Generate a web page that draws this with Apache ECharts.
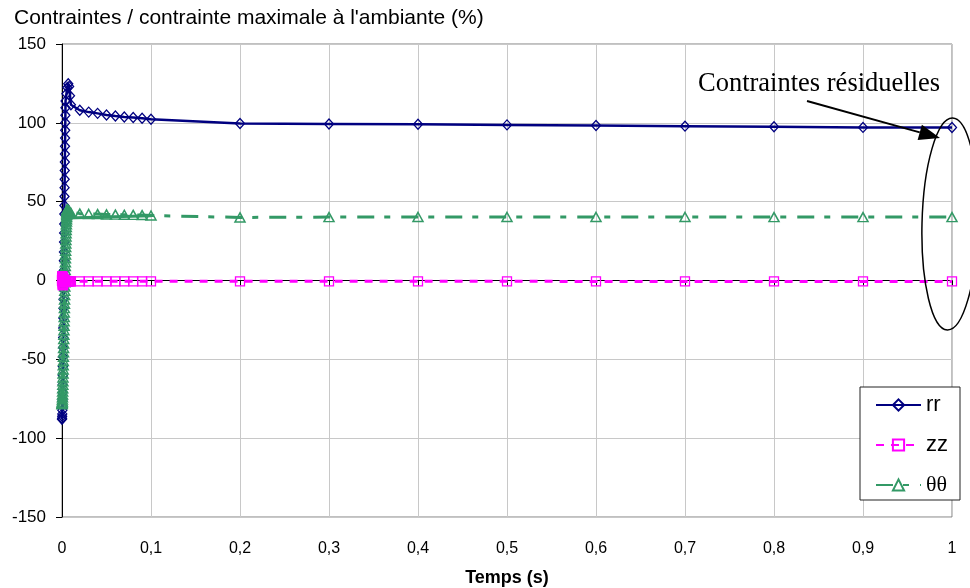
<!DOCTYPE html>
<html><head><meta charset="utf-8">
<script src="https://cdn.jsdelivr.net/npm/echarts@6/dist/echarts.min.js"></script>
<style>html,body{margin:0;padding:0;background:#fff}#c{width:970px;height:588px}</style>
</head><body><div id="c"></div>
<script>
// Time (s) for rr and zz
const times = [
  0, 0.0001, 0.0002, 0.0003, 0.0004, 0.0005, 0.0006, 0.0007, 0.0008, 0.0009,
  0.001, 0.0011, 0.0012, 0.0013, 0.0014, 0.0015, 0.0016, 0.0017, 0.0018, 0.0019,
  0.002, 0.0021, 0.0022, 0.0023, 0.0024, 0.0025, 0.0026, 0.0027, 0.0028, 0.0029,
  0.003, 0.0031, 0.0032, 0.0033, 0.0034, 0.0035, 0.0036, 0.0037, 0.0038, 0.0039,
  0.004,
  0.005, 0.006, 0.007, 0.008, 0.009, 0.01,
  0.02, 0.03, 0.04, 0.05, 0.06, 0.07, 0.08, 0.09, 0.1,
  0.2, 0.3, 0.4, 0.5, 0.6, 0.7, 0.8, 0.9, 1
];
// rr (%)
const rrValues = [
  -88, -87.4, -86.1, -84.6, -82.3, -79.5, -75.8, -71.2, -65.9, -60.3,
  -54.6, -48.4, -42.5, -36.1, -30.2, -23.8, -17.6, -11.9, -5.7, 0.4,
  6.3, 12.5, 18.1, 24.4, 30.2, 35.9, 42.1, 47.6, 53.3, 58.9,
  64.2, 69.8, 75.1, 80.3, 85.2, 90.4, 95.3, 100.1, 104.8, 109.6,
  113.9,
  118.5, 122.4, 124.8, 123.1, 117.2, 111.5,
  108, 106.8, 106, 105, 104.3, 103.7, 103.4, 102.9, 102.3,
  99.6, 99.3, 99.1, 98.7, 98.3, 97.9, 97.5, 97.1, 97.0
];
// zz (%)
const zzValues = [
  0, 1.3, 2.2, 2.7, 2.4, 1.6, 0.5, -0.7, -1.8, -2.6,
  -3.0, -2.7, -2.1, -1.2, -0.4, 0.2, 0.7, 1.0, 0.9, 0.6,
  0.2, -0.2, -0.6, -0.9, -1.0, -0.9, -0.7, -0.4, -0.2, 0.0,
  0.1, 0.1, 0.0, -0.1, -0.2, -0.3, -0.4, -0.4, -0.5, -0.5,
  -0.5,
  -0.5, -0.5, -0.5, -0.5, -0.5, -0.5,
  -0.5, -0.5, -0.5, -0.5, -0.5, -0.5, -0.5, -0.5, -0.5,
  -0.5, -0.5, -0.5, -0.5, -0.6, -0.6, -0.6, -0.6, -0.6
];
// Time (s) for θθ
const ttTimes = [
  0, 0.0001, 0.0002, 0.0003, 0.0004, 0.0005, 0.0006, 0.0007, 0.0008, 0.0009,
  0.001, 0.0011, 0.0012, 0.0013, 0.0014, 0.0015, 0.0016, 0.0017, 0.0018, 0.0019,
  0.002, 0.0021, 0.0022, 0.0023, 0.0024, 0.0025, 0.0026, 0.0027, 0.0028, 0.0029,
  0.003, 0.0031, 0.0032, 0.0033, 0.0034, 0.0035, 0.0036, 0.0037, 0.0038, 0.0039,
  0.004, 0.0041, 0.0042, 0.0043, 0.0044, 0.0045, 0.0046, 0.0047, 0.0048, 0.0049,
  0.005, 0.0051, 0.0052, 0.0053, 0.0054, 0.0055, 0.0056, 0.0057, 0.0058, 0.0059,
  0.006,
  0.007, 0.008, 0.009, 0.01,
  0.02, 0.03, 0.04, 0.05, 0.06, 0.07, 0.08, 0.09, 0.1,
  0.2, 0.3, 0.4, 0.5, 0.6, 0.7, 0.8, 0.9, 1
];
// θθ (%)
const ttValues = [
  -78.5, -78.2, -77.6, -76.7, -75.5, -74.1, -72.4, -70.5, -68.4, -66.2,
  -63.9, -61.5, -59.0, -56.4, -53.8, -51.1, -48.4, -45.6, -42.8, -40.0,
  -37.2, -34.4, -31.5, -28.7, -25.9, -23.1, -20.3, -17.5, -14.8, -12.0,
  -9.3, -6.6, -3.9, -1.2, 1.4, 4.0, 6.6, 9.1, 11.6, 14.1,
  16.5, 18.9, 21.2, 23.5, 25.7, 27.9, 30.0, 32.0, 33.9, 35.7,
  37.4, 38.9, 40.3, 41.5, 42.5, 43.4, 44.1, 44.6, 44.9, 45.1,
  45.0,
  44.6, 44.0, 43.4, 42.9,
  42.4, 42.2, 42.1, 41.9, 41.8, 41.7, 41.6, 41.5, 41.2,
  40.0, 40.2, 40.3, 40.3, 40.3, 40.3, 40.2, 40.2, 40.2
];
// θθ early plateau trace (solid segment under the markers)
const ttPlateauTimes = [0.006, 0.1];
const ttPlateauValues = [39.6, 41.1];

const seriesNames = ['rr', 'zz', 'θθ'];
const yTitle = "Contraintes / contrainte maximale à l'ambiante (%)";
const xTitle = 'Temps (s)';
const annotationText = 'Contraintes résiduelles';

const pairs = (xs, ys) => xs.map((t, i) => [t, ys[i]]);
const FONT = 'Liberation Sans, Arial, sans-serif';
const NAVY = '#000080', MAG = '#ff00ff', GREEN = '#339966';

const chart = echarts.init(document.getElementById('c'), null, {renderer: 'canvas'});

// annotation geometry (px)
const tip = [940, 138], tail = [807, 101];
const dx = tip[0] - tail[0], dy = tip[1] - tail[1], L = Math.hypot(dx, dy);
const ux = dx / L, uy = dy / L, hl = 21, hw = 8;
const bc = [tip[0] - hl * ux, tip[1] - hl * uy];

chart.setOption({
  animation: false,
  backgroundColor: '#fff',
  title: {
    text: yTitle, left: 14, top: 8, padding: 0,
    textStyle: {fontFamily: FONT, fontSize: 21, fontWeight: 'normal', color: '#000'}
  },
  grid: {left: 62, right: 18, top: 44, bottom: 71, outerBoundsMode: 'none', containLabel: false,
    show: true, borderColor: '#808080', borderWidth: 1, backgroundColor: 'transparent'},
  legend: {
    data: seriesNames, orient: 'vertical', left: 860, top: 387,
    padding: [7, 12, 4, 15], itemWidth: 45, itemHeight: 14, itemGap: 18,
    backgroundColor: '#fff', borderColor: '#222', borderWidth: 1,
    textStyle: {fontFamily: FONT, fontSize: 22, color: '#000',
      rich: {g: {fontFamily: 'Liberation Serif, Times New Roman, serif', fontSize: 22, color: '#000'}}},
    formatter: n => n === 'θθ' ? '{g|θθ}' : n
  },
  xAxis: [{
    type: 'value', min: 0, max: 1, interval: 0.1, position: 'bottom',
    name: xTitle, nameLocation: 'middle', nameGap: 52,
    nameTextStyle: {fontFamily: FONT, fontSize: 18, fontWeight: 'bold', color: '#000'},
    axisLine: {show: false, onZero: false}, axisTick: {show: false},
    axisLabel: {fontFamily: FONT, fontSize: 16, color: '#000', margin: 24,
      formatter: v => String(Math.round(v * 10) / 10).replace('.', ',')},
    splitLine: {show: true, lineStyle: {color: '#c8c8c8', width: 1}}
  }, {
    type: 'value', min: 0, max: 1, interval: 0.1, position: 'bottom',
    axisLine: {show: true, onZero: true, lineStyle: {color: '#000', width: 1}},
    axisTick: {show: true, length: 5, lineStyle: {color: '#000'}},
    axisLabel: {show: false}, splitLine: {show: false}
  }],
  yAxis: {
    type: 'value', min: -150, max: 150, interval: 50,
    axisLine: {show: true, onZero: false, lineStyle: {color: '#000', width: 1}},
    axisTick: {show: true, length: 6, lineStyle: {color: '#000'}},
    axisLabel: {fontFamily: FONT, fontSize: 17, color: '#000', margin: 16},
    splitLine: {show: true, lineStyle: {color: '#c8c8c8', width: 1}}
  },
  series: [
    {
      name: 'rr', type: 'line', z: 2, data: pairs(times, rrValues),
      symbol: 'diamond', symbolSize: [9, 10], showAllSymbol: true,
      lineStyle: {color: NAVY, width: 2.5},
      itemStyle: {color: 'rgba(255,255,255,0)', borderColor: NAVY, borderWidth: 1.3}
    },
    {
      name: 'zz', type: 'line', z: 4, data: pairs(times, zzValues),
      symbol: 'rect', symbolSize: 9, showAllSymbol: true,
      lineStyle: {color: MAG, width: 3, type: [8, 7]},
      itemStyle: {color: 'rgba(255,255,255,0)', borderColor: MAG, borderWidth: 1.3}
    },
    {
      name: 'θθ', type: 'line', z: 3, data: pairs(ttTimes, ttValues),
      symbol: 'triangle', symbolSize: [10, 9], showAllSymbol: true,
      lineStyle: {color: GREEN, width: 3, type: [17, 10, 6, 11]},
      itemStyle: {color: 'rgba(255,255,255,0)', borderColor: GREEN, borderWidth: 1.5}
    },
    {
      name: 'θθ-plateau', type: 'line', z: 3, silent: true, data: pairs(ttPlateauTimes, ttPlateauValues),
      symbol: 'none', lineStyle: {color: GREEN, width: 3}
    }
  ],
  graphic: [
    {type: 'text', left: 698, top: 71, z: 100,
      style: {text: annotationText, font: '26.5px "Liberation Serif", "Times New Roman", serif', fill: '#000'}},
    {type: 'line', z: 100, shape: {x1: tail[0], y1: tail[1], x2: bc[0], y2: bc[1]}, style: {stroke: '#000', lineWidth: 2}},
    {type: 'polygon', z: 100, shape: {points: [tip, [bc[0] - hw * uy, bc[1] + hw * ux], [bc[0] + hw * uy, bc[1] - hw * ux]]}, style: {fill: '#000'}},
    {type: 'ellipse', z: 100, x: 950, y: 224, rotation: -0.024,
      shape: {cx: 0, cy: 0, rx: 28, ry: 106}, style: {fill: 'none', stroke: '#000', lineWidth: 1.5}}
  ]
});
</script></body></html>
